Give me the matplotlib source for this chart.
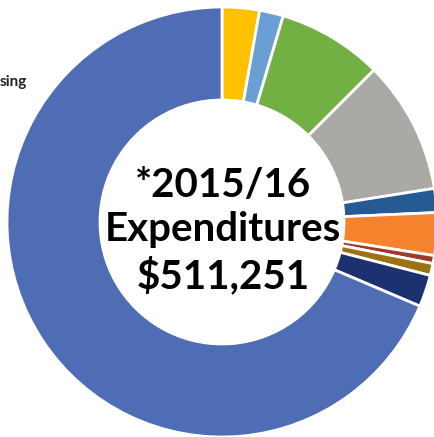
import matplotlib
matplotlib.use('Agg')
import matplotlib.pyplot as plt

# slice shares (percent of total), clockwise from 12 o'clock
labels = ['Yellow', 'Light blue', 'Green', 'Gray', 'Dark blue',
          'Orange', 'Red', 'Brown', 'Navy', 'Blue']
shares = [2.8, 1.8, 7.9, 10.0, 1.8, 3.2, 0.6, 0.9, 2.4, 68.6]
colors = ['#FFC000', '#6A9FD3', '#72B043', '#ABA9A6', '#255A94',
          '#F5822C', '#A0392A', '#9C7212', '#1C3170', '#4E6DB4']

title_lines = ['*2015/16', 'Expenditures', '$511,251']

W, H = 435, 437
fig = plt.figure(figsize=(W / 100, H / 100), dpi=100)
ax = fig.add_axes([0, 0, 1, 1])

cx, cy, R = 222, H - 222, 215
ax.pie(shares, colors=colors, startangle=90, counterclock=False,
       center=(cx, cy), radius=R, frame=True,
       wedgeprops=dict(width=93, edgecolor='white', linewidth=2))
ax.set_xlim(0, W)
ax.set_ylim(0, H)
ax.set_aspect('equal')
ax.axis('off')

# center text, baselines in pixel rows from the top
baselines = [197, 241, 288]
for txt, by in zip(title_lines, baselines):
    ax.text(cx + 1, H - by, txt, ha='center', va='baseline', fontsize=29,
            fontweight='bold', family='Lato', color='black')

# clipped legend label at the left edge
ax.text(0, H - 86, 'sing', ha='left', va='baseline', fontsize=11,
        fontweight='bold', family='Lato', color='#222222')

fig.savefig('out.png', dpi=100)
